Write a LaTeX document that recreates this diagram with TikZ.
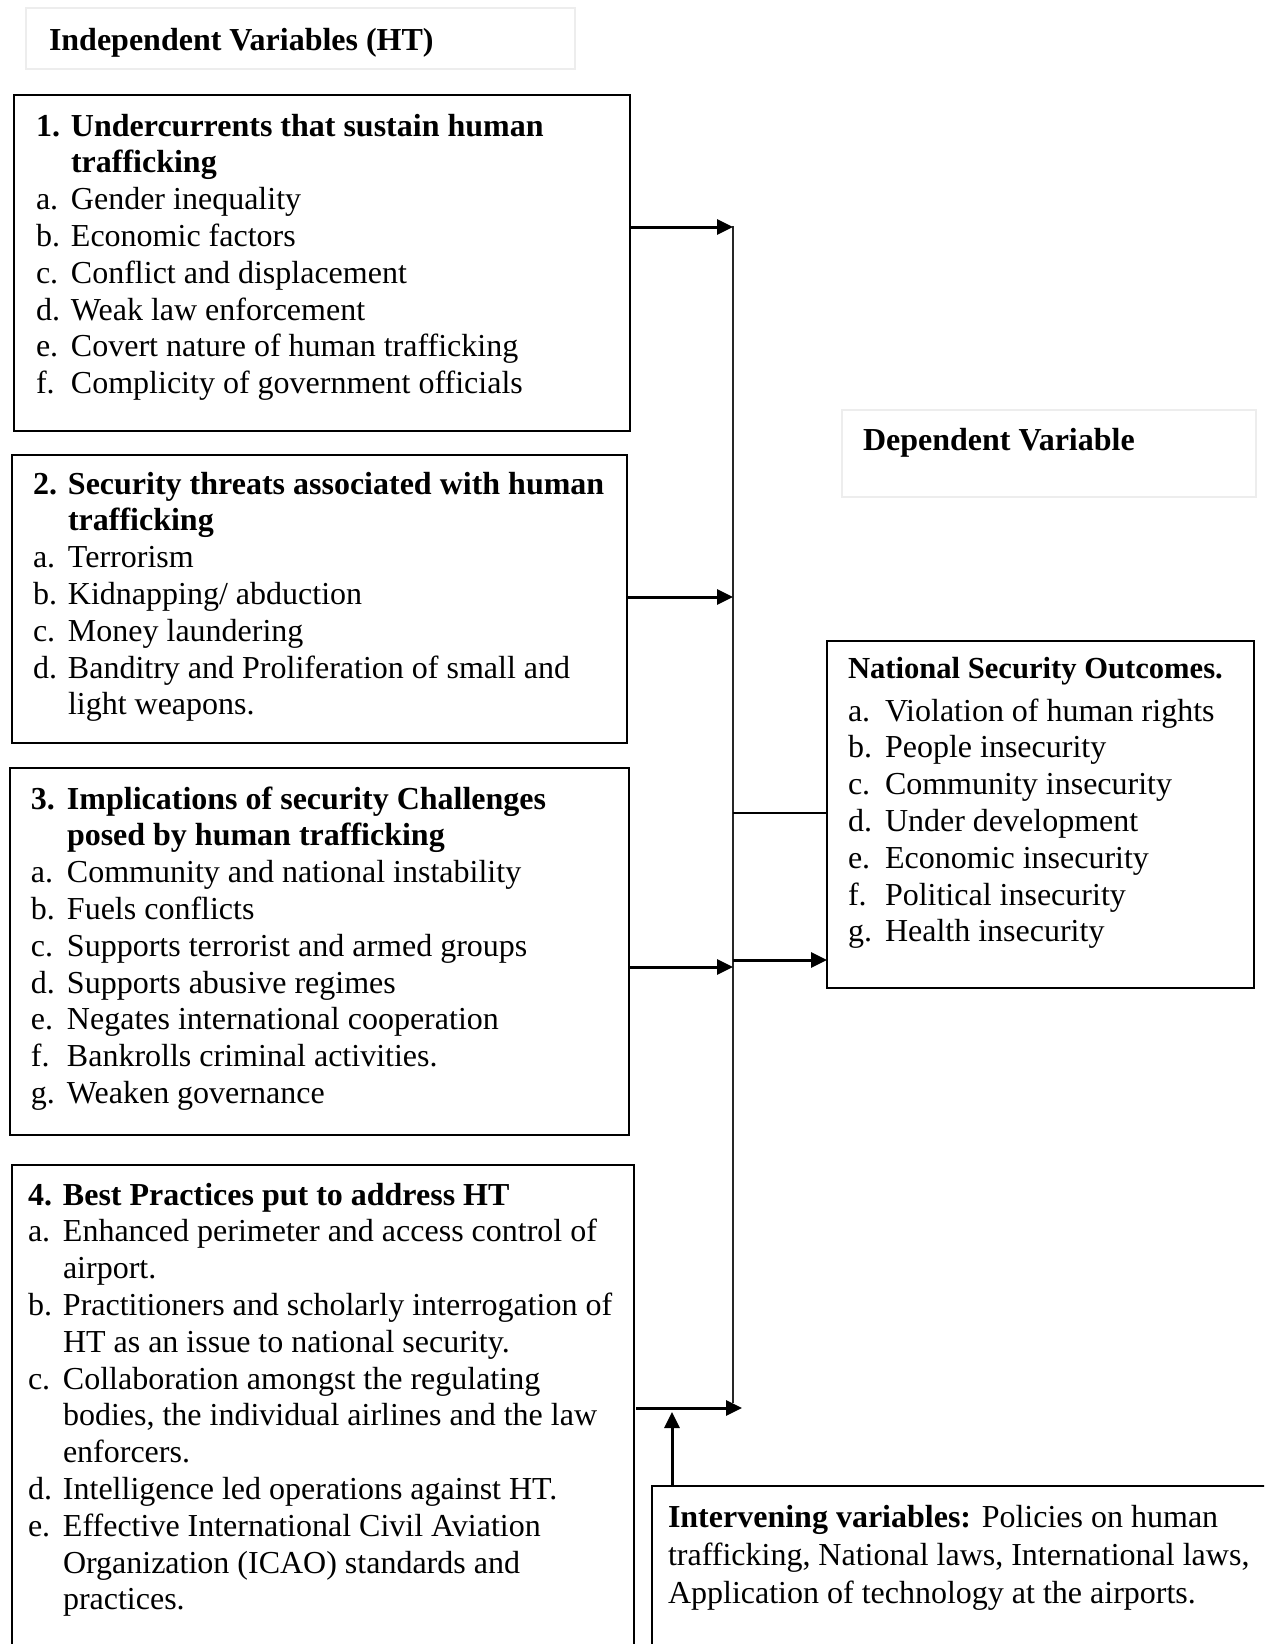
\documentclass[tikz,border=0pt]{standalone}
\usepackage{fontspec}
\setmainfont{Liberation Serif}
\usetikzlibrary{arrows.meta}
\tikzset{
  mainbox/.style={draw=black, line width=1pt, inner sep=0pt, outer sep=0pt, anchor=north west},
  headbox/.style={draw=black!7, line width=0.6pt, inner sep=0pt, outer sep=0pt, anchor=north west},
  txt/.style={inner sep=0pt, outer sep=0pt, anchor=base west, font=\fontsize{16pt}{18.4pt}\selectfont},
  arr/.style={line width=1.5pt, -{Triangle[length=8pt,width=7.5pt]}},
  plainline/.style={line width=0.8pt},
  vline/.style={line width=0.8pt, black!85},
}
\newlength\labw
\newcommand\itm[2]{\makebox[\labw][l]{#1}#2\par}
\begin{document}
\begin{tikzpicture}[x=0.5pt,y=-0.5pt]
\useasboundingbox (0,0) rectangle (1264,1644);
\clip (0,0) rectangle (1264,1644);

% header boxes
\node[headbox, minimum width=274.5pt, minimum height=30.5pt] (h1) at (26,8) {};
\node[txt, font=\fontsize{16pt}{18.4pt}\selectfont\bfseries] (h1t) at (49,50) {Independent Variables (HT)};
\node[headbox, minimum width=207pt, minimum height=43.5pt] (h2) at (842,410) {};
\node[txt, font=\fontsize{16pt}{18.4pt}\selectfont\bfseries] (h2t) at (863,450) {Dependent Variable};

% main boxes
\node[mainbox, minimum width=308pt, minimum height=168pt] (b1) at (14,95) {};
\node[mainbox, minimum width=307.5pt, minimum height=144pt] (b2) at (12,455) {};
\node[mainbox, minimum width=309.5pt, minimum height=183.5pt] (b3) at (10,768) {};
\node[mainbox, minimum width=311pt, minimum height=245pt] (b4) at (12,1165) {};
\node[mainbox, minimum width=213.5pt, minimum height=173.5pt] (nso) at (827,641) {};
\node[mainbox, minimum width=312pt, minimum height=85pt] (ib) at (652,1486) {};

% box texts
\node[txt] (t1) at (36,136) {\parbox[t]{300pt}{\setlength\labw{17.5pt}\parindent0pt
\itm{\textbf{1.}}{\textbf{Undercurrents that sustain human}}
\itm{}{\textbf{trafficking}}
\itm{a.}{Gender inequality}
\itm{b.}{Economic factors}
\itm{c.}{Conflict and displacement}
\itm{d.}{Weak law enforcement}
\itm{e.}{Covert nature of human trafficking}
\itm{f.}{Complicity of government officials}}};

\node[txt] (t2) at (33,494) {\parbox[t]{300pt}{\setlength\labw{17.5pt}\parindent0pt
\itm{\textbf{2.}}{\textbf{Security threats associated with human}}
\itm{}{\textbf{trafficking}}
\itm{a.}{Terrorism}
\itm{b.}{Kidnapping/ abduction}
\itm{c.}{Money laundering}
\itm{d.}{Banditry and Proliferation of small and}
\itm{}{light weapons.}}};

\node[txt] (t3) at (31,809) {\parbox[t]{300pt}{\setlength\labw{18pt}\parindent0pt
\itm{\textbf{3.}}{\textbf{Implications of security Challenges}}
\itm{}{\textbf{posed by human trafficking}}
\itm{a.}{Community and national instability}
\itm{b.}{Fuels conflicts}
\itm{c.}{Supports terrorist and armed groups}
\itm{d.}{Supports abusive regimes}
\itm{e.}{Negates international cooperation}
\itm{f.}{Bankrolls criminal activities.}
\itm{g.}{Weaken governance}}};

\node[txt] (t4) at (28,1205) {\parbox[t]{305pt}{\setlength\labw{17.5pt}\parindent0pt
\itm{\textbf{4.}}{\textbf{Best Practices put to address HT}}
\itm{a.}{Enhanced perimeter and access control of}
\itm{}{airport.}
\itm{b.}{Practitioners and scholarly interrogation of}
\itm{}{HT as an issue to national security.}
\itm{c.}{Collaboration amongst the regulating}
\itm{}{bodies, the individual airlines and the law}
\itm{}{enforcers.}
\itm{d.}{Intelligence led operations against HT.}
\itm{e.}{Effective International Civil Aviation}
\itm{}{Organization (ICAO) standards and}
\itm{}{practices.}}};

\node[txt, font=\fontsize{15.3pt}{18pt}\selectfont\bfseries] (nsoh) at (848,678) {National Security Outcomes.};
\node[txt] (nsot) at (848,721) {\parbox[t]{205pt}{\setlength\labw{18.5pt}\parindent0pt
\itm{a.}{Violation of human rights}
\itm{b.}{People insecurity}
\itm{c.}{Community insecurity}
\itm{d.}{Under development}
\itm{e.}{Economic insecurity}
\itm{f.}{Political insecurity}
\itm{g.}{Health insecurity}}};

\node[txt] (it) at (668,1527) {\parbox[t]{300pt}{\baselineskip=19pt\parindent0pt
\textbf{Intervening variables:} Policies on human\par
trafficking, National laws, International laws,\par
Application of technology at the airports.}};

% connectors
\coordinate (vtop) at (733,226);
\coordinate (vbot) at (733,1403);
\coordinate (v1) at (733,227);
\coordinate (v2) at (733,597);
\coordinate (v3) at (733,967);
\coordinate (vn) at (733,960);
\coordinate (vm) at (733,813);
\coordinate (v4) at (742,1408);
\coordinate (ia) at (672,1412);

\draw[vline] (vtop) -- (vbot);
\draw[arr] (v1 -| b1.east) -- (v1);
\draw[arr] (v2 -| b2.east) -- (v2);
\draw[arr] (v3 -| b3.east) -- (v3);
\draw[arr] (vn) -- (vn -| nso.west);
\draw[plainline] (vm) -- (vm -| nso.west);
\draw[arr] ([xshift=1pt]v4 -| b4.east) -- (v4);
\draw[arr] (ia |- ib.north) -- (ia);
\end{tikzpicture}
\end{document}
